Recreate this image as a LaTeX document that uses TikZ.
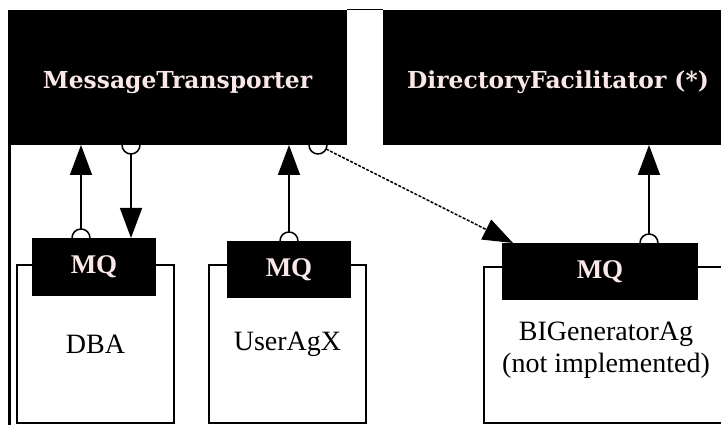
\documentclass[tikz,border=0pt]{standalone}
\usepackage{fontspec}
\setmainfont{Liberation Serif}
\newfontfamily\headfont{DejaVu Serif}
\usetikzlibrary{arrows.meta,calc}
\definecolor{labelpink}{RGB}{250,232,232}
\begin{document}
\begin{tikzpicture}[x=1pt,y=-1pt,
  blackbox/.style={fill=black, draw=none, inner sep=0pt, outer sep=0pt, anchor=north west},
  agenttext/.style={align=center, font=\fontsize{28}{32}\selectfont},
  agentbox/.style={agenttext, draw=black, line width=1.5pt, fill=white, inner sep=0pt, outer sep=0pt,
    anchor=north west},
  headtext/.style={text=labelpink, font=\headfont\bfseries\fontsize{23.4}{26}\selectfont,
    text height=26.8pt, text depth=5.6pt},
  mqtext/.style={text=labelpink, font=\bfseries\fontsize{27}{29}\selectfont},
  link/.style={line width=1.5pt, -{Triangle[length=30pt,width=22pt]}},
  dottedlink/.style={link, dash pattern=on 3pt off 1.5pt},
  ball/.style={line width=1.5pt},
]
\useasboundingbox (0,0) rectangle (721,425);
\clip (0,0) rectangle (721,425);

% platform services
\node[blackbox, headtext, minimum width=339, minimum height=135] (mt) at (8,10) {MessageTransporter};
\node[blackbox, headtext, minimum width=350, minimum height=135] (df) at (383,10) {DirectoryFacilitator (*)};
\draw[line width=1pt] (mt.north east) -- (df.north west);

% left frame edge
\coordinate (frameL) at (9.5,425);
\draw[line width=3pt] (mt.south west -| frameL) -- (frameL);

% agents
\node[agentbox, minimum width=157, minimum height=158] (dba) at (17,265) {DBA};
\node[agentbox, minimum width=157, minimum height=158] (usr) at (209,265) {UserAgX};
\node[agentbox, minimum width=244, minimum height=156] (big) at (484,267) {};
\node[agenttext] (biglabel) at ($(big.center)+(0,5)$) {BIGeneratorAg\\(not implemented)};

% message queues
\node[blackbox, mqtext, minimum width=124, minimum height=58] (mqdba) at (32,238) {MQ};
\node[blackbox, mqtext, minimum width=124, minimum height=57] (mqusr) at (227,241) {MQ};
\node[blackbox, mqtext, minimum width=196, minimum height=57] (mqbig) at (502,243) {MQ};

% ports
\coordinate (dbaout) at ($(mqdba.north west)+(49,0)$);
\coordinate (mtdba)  at ($(mt.south west)+(123,0)$);
\coordinate (usrout) at ($(mqusr.north west)+(62,0)$);
\coordinate (mtbig)  at ($(mt.south west)+(310,0)$);
\coordinate (bigin)  at ($(mqbig.north west)+(11,0)$);
\coordinate (bigout) at ($(mqbig.north west)+(147,0)$);

% DBA -> MessageTransporter
\draw[ball] ($(dbaout)+(9,0)$) arc[start angle=0, end angle=180, radius=9pt];
\draw[link] ($(dbaout)+(0,-9)$) -- (dbaout |- mt.south);

% MessageTransporter -> DBA
\draw[ball] ($(mtdba)+(-9,0)$) arc[start angle=180, end angle=360, radius=9pt];
\draw[link] ($(mtdba)+(0,9)$) -- (mtdba |- mqdba.north);

% UserAgX -> MessageTransporter
\draw[ball] ($(usrout)+(9,0)$) arc[start angle=0, end angle=180, radius=9pt];
\draw[link] ($(usrout)+(0,-9)$) -- (usrout |- mt.south);

% MessageTransporter -> BIGeneratorAg
\draw[ball] ($(mtbig)+(-9,0)$) arc[start angle=180, end angle=360, radius=9pt];
\draw[dottedlink] ($(mtbig)!9pt!(bigin)$) -- (bigin);

% BIGeneratorAg -> DirectoryFacilitator
\draw[ball] ($(bigout)+(9,0)$) arc[start angle=0, end angle=180, radius=9pt];
\draw[link] ($(bigout)+(0,-9)$) -- (bigout |- df.south);
\end{tikzpicture}
\end{document}
